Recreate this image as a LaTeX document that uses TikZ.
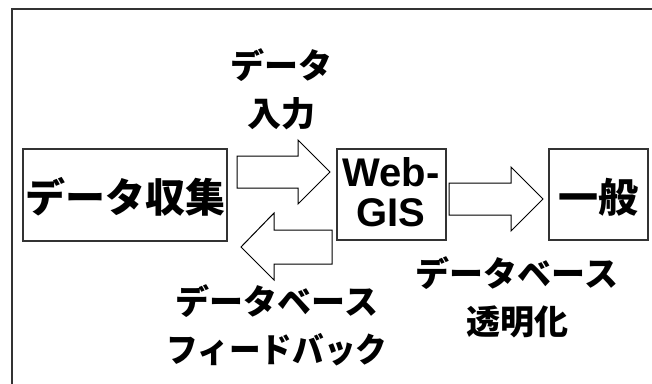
\documentclass[tikz,border=0pt]{standalone}
\usepackage{fontspec}
\setmainfont{Liberation Sans}
\newfontfamily\jp{Noto Sans CJK JP}
\definecolor{frame}{HTML}{333333}
\begin{document}
\begin{tikzpicture}[x=1pt,y=-1pt,
  boxstyle/.style={draw=frame,line width=1.5pt},
  blockarrow/.style={draw=black,line width=1pt,fill=white,line join=miter},
  bigtext/.style={inner sep=0pt,font=\jp\bfseries\fontsize{40}{44}\selectfont},
  labeltext/.style={inner sep=0pt,align=center,font=\jp\bfseries\fontsize{34}{48}\selectfont}]
\useasboundingbox (0,0) rectangle (652,383);
% outer frame
\draw[draw=frame,line width=2pt] (12,390) -- (12,9) -- (660,9);
% boxes
\draw[boxstyle] (23,149) rectangle (227,241);
\draw[boxstyle] (337,149) rectangle (446,240);
\draw[boxstyle] (549,149) rectangle (648,240);
\node[bigtext] (collect) at (125,197) {データ収集};
\node[inner sep=0pt,align=center,font=\bfseries\fontsize{40}{40}\selectfont] (gis) at (391,192) {Web-\\GIS};
\node[bigtext] (public) at (598,197) {一般};
% block arrows
\draw[blockarrow] (237,156) -- (298,156) -- (298,140) -- (330,172) -- (298,204) -- (298,188) -- (237,188) -- cycle;
\draw[blockarrow] (332,230) -- (274,230) -- (274,213) -- (241,247) -- (274,280) -- (274,264) -- (332,264) -- cycle;
\draw[blockarrow] (449,183) -- (511,183) -- (511,167) -- (543,199) -- (511,231) -- (511,215) -- (449,215) -- cycle;
% labels
\node[labeltext] (input) at (281,89) {データ\\入力};
\node[labeltext] (transp) at (517,297) {データベース\\透明化};
\node[labeltext] (feedback) at (277,325) {データベース\\\scalebox{0.93}[1]{フィードバック}};
\end{tikzpicture}
\end{document}
